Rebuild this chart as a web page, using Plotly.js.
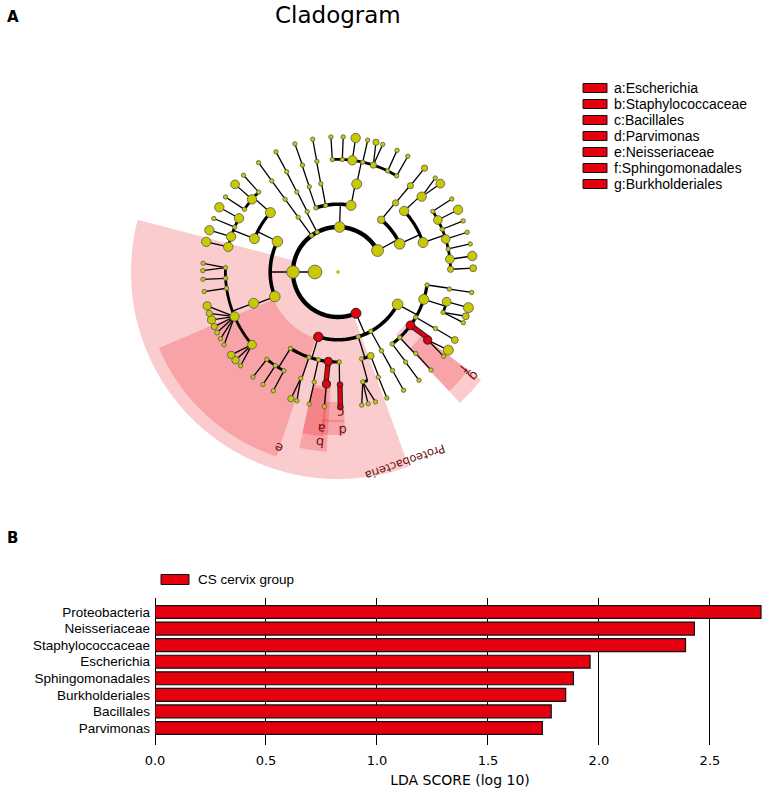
<!DOCTYPE html>
<html><head><meta charset="utf-8">
<script src="https://cdn.plot.ly/plotly-3.0.1.min.js"></script>
<style>html,body{margin:0;padding:0;background:#fff}#chart{width:765px;height:794px}</style>
</head><body><div id="chart"></div>
<script>
// ---------------- Panel B : LDA scores ----------------
const taxa = ['Proteobacteria','Neisseriaceae','Staphylococcaceae','Escherichia','Sphingomonadales','Burkholderiales','Bacillales','Parvimonas'];
const ldaScores = [2.73, 2.43, 2.39, 1.96, 1.885, 1.85, 1.785, 1.745];
const groupName = 'CS cervix group';
const ldaTicks = [0, 0.5, 1, 1.5, 2, 2.5];

// ---------------- Panel A : cladogram legend ----------------
const cladeLetters = ['a','b','c','d','e','f','g'];
const cladeNames = ['Escherichia','Staphylococcaceae','Bacillales','Parvimonas','Neisseriaceae','Sphingomonadales','Burkholderiales'];

// ---------------- Panel A : taxonomy tree ----------------
// level: 0 root, 1 kingdom, 2 phylum, 3 class, 4 order, 5 family, 6 genus
const nodeParent = [-1,-1,1,1,1,1,1,1,2,2,2,2,3,3,4,5,6,6,6,7,7,
  8,8,8,8,8,8,9,10,10,11,11,11,11,11,12,13,13,14,15,16,17,18,19,20,20,
  21,22,22,23,24,25,26,27,28,29,30,31,32,33,34,34,34,35,35,35,35,35,36,36,36,36,37,37,37,38,39,40,41,42,42,42,42,42,42,42,43,44,45,45,45,45,45,45,45,
  46,47,48,48,49,50,50,51,52,53,54,55,55,55,56,57,58,59,59,60,61,62,63,63,63,64,64,64,64,64,64,64,65,66,67,67,68,69,70,71,72,73,74,75,76,77,78,79,80,81,82,83,83,84,85,86,87,87,88,89,90,91,92,93,94];
const nodeLevel = [0,1,2,2,2,2,2,2,3,3,3,3,3,3,3,3,3,3,3,3,3,
  4,4,4,4,4,4,4,4,4,4,4,4,4,4,4,4,4,4,4,4,4,4,4,4,4,
  5,5,5,5,5,5,5,5,5,5,5,5,5,5,5,5,5,5,5,5,5,5,5,5,5,5,5,5,5,5,5,5,5,5,5,5,5,5,5,5,5,5,5,5,5,5,5,5,5,
  6,6,6,6,6,6,6,6,6,6,6,6,6,6,6,6,6,6,6,6,6,6,6,6,6,6,6,6,6,6,6,6,6,6,6,6,6,6,6,6,6,6,6,6,6,6,6,6,6,6,6,6,6,6,6,6,6,6,6,6,6,6,6,6,6];
const nodeAngle = [0,180,66.5,180,234,242.3,272,331.5,28.5,61,72.6,106.9,158.8,206.7,234,243,251,259.5,281.1,309.6,335.5,
  8.3,17.7,30.2,36.3,46.7,53,61.1,68.7,74.8,89.2,96.2,102.6,108.8,121.9,159.7,201.7,221.3,234,242.8,251.4,259,282,309.8,317.3,340.9,
  8.7,15.3,21,30.1,37.2,46.3,53.1,61,69,77.3,89,95.9,102.2,109.3,118.7,123.8,129.2,139.8,156.7,171.7,176.8,182.2,192.9,198.3,203.5,208.5,213.8,220.2,225.2,234,242.9,251.6,259.2,267.1,272.2,277.3,282.7,288.3,296.2,301.4,310,318,327.4,332.5,337.7,343,348.2,353.5,358.6,
  8.7,15.3,19.1,22,30.2,35.3,38.6,46.5,53.2,61,68.8,73.9,77.1,79.9,89,95.8,102.3,107.7,110.4,118.6,123.7,129,136.1,139.3,142.2,147.4,150.4,153.4,156.2,159.3,162.2,165.5,171.7,176.9,180.6,183.7,192.9,198,203.3,208.6,213.7,220.4,225.7,234,242.7,251.4,259.2,267,272.2,277.5,282.7,286.3,289.3,295.9,301.1,309.8,316,319.2,327.3,332.6,337.8,342.9,348,353.2,358.4];
const nodeAbundance = [3,11,8,10,3.5,3.5,8.5,9.5,8.5,3.5,3.5,7.5,8.5,8.5,3.5,3.5,3.5,3.5,8,6,8.5,
  3.5,8,3.5,7,3.5,3.5,3.5,5.5,3.5,3.5,6.5,3.5,3.5,3.5,8,8,8,3.5,3.5,3.5,3.5,8,5,7.5,8,
  3.5,7,3.5,3.5,6.5,3.5,3.5,3.5,3.5,3.5,4.5,6.5,3.5,3.5,3.5,3.5,3.5,7,7.5,3.5,3.5,3.5,7.5,7.5,3.5,7.5,3.5,7.5,3.5,3.5,3.5,3.5,3.5,3.5,3.5,7.5,3.5,5,3.5,3.5,5,7.5,3.5,7,3.5,7,3.5,7,5,
  3.5,8,5.5,3.5,5.5,8,3.5,3.5,3.5,3.5,3.5,3.5,3.5,3.5,4.5,3.5,3.5,3.5,5,3.5,3.5,3.5,3.5,6,6,3.5,3.5,4,5,6.5,5,6.5,3.5,3.5,3.5,3.5,7.5,7.5,3.5,7.5,3.5,7,3.5,3.5,3.5,3.5,3.5,3.5,3.5,7.5,3.5,5,3.5,3.5,3.5,5,3.5,7,3.5,7.5,3.5,3.5,3.5,7.5,5.5];
const nodeBiomarker = nodeParent.map(()=>0);
[2,11,24,31,50,56,57,109].forEach(i=>nodeBiomarker[i]=1);
const levelRadius = [0, 23, 45, 67.8, 90, 112.6, 135.2];

// ---------------- Panel A : highlighted clades ----------------
const wedgeLabel  = ['Proteobacteria','e','b','a','c','d','g','f'];
const wedgeStart  = [70, 108.4, 93.6, 95, 87.5, 87.5, 37, 37];
const wedgeEnd    = [194.6, 157, 102.4, 102.5, 96, 96, 47, 47];
const wedgeInner  = [47, 70, 115, 118, 130, 148, 85, 105];
const wedgeOuter  = [207, 194.5, 180, 165, 150, 163, 179, 163];
const labelAngle  = [70.6, 108.7, 96, 95.9, 88.9, 88.4, 37.5, 37.7];
const labelRadius = [202, 186, 172, 158, 141.3, 158, 170.7, 158.5];

// ---------------- geometry of the page ----------------
const W = 765, H = 794;
const cx = 338, cy = 272, Rpx = 220;       // cladogram centre and radius in px
const RED = '#e5000f', YEL = '#c9c900';
const sizeScale = 1.25;

const traces = [];
function arcPts(r, a0, a1){
  const n = Math.max(2, Math.ceil(Math.abs(a1-a0))+1);
  const rr=[], tt=[];
  for(let k=0;k<n;k++){ rr.push(r); tt.push(a0+(a1-a0)*k/(n-1)); }
  return [rr,tt];
}
// wedges
wedgeLabel.forEach((lab,i)=>{
  const [r1,t1] = arcPts(wedgeOuter[i], wedgeStart[i], wedgeEnd[i]);
  const [r2,t2] = arcPts(wedgeInner[i], wedgeEnd[i], wedgeStart[i]);
  traces.push({type:'scatterpolar', mode:'lines', r:r1.concat(r2,[r1[0]]), theta:t1.concat(t2,[t1[0]]),
    fill:'toself', fillcolor:'rgba(235,12,22,0.21)', line:{width:0}, hoverinfo:'skip', showlegend:false});
});

// edges
const children = nodeParent.map(()=>[]);
nodeParent.forEach((p,i)=>{ if(p>=0) children[p].push(i); });
const thin = {r:[],t:[]}, redUnder={r:[],t:[]}, redTop={r:[],t:[]};
const arcsByLevel = {};
function push(seg, rs, ts){ seg.r.push(...rs, null); seg.t.push(...ts, null); }
children.forEach((ch,p)=>{
  if(!ch.length) return;
  const rp = levelRadius[nodeLevel[p]];
  const isRedEdge = c => nodeBiomarker[p] && nodeBiomarker[c] && nodeLevel[c] >= 5;
  const internal = ch.filter(c=>children[c].length);
  const leaves = ch.filter(c=>!children[c].length);
  leaves.forEach(c=>{
    const rs=[rp, levelRadius[nodeLevel[c]]], ts=[nodeAngle[p], nodeAngle[c]];
    if(isRedEdge(c)){ push(redUnder,rs,ts); push(redTop,rs,ts); } else push(thin,rs,ts);
  });
  if(internal.length){
    const lev = nodeLevel[internal[0]];
    const rc = levelRadius[lev];
    const angs = internal.map(c=>nodeAngle[c]).concat([nodeAngle[p]]);
    const lo = Math.min(...angs), hi = Math.max(...angs);
    const red = internal.every(isRedEdge);
    const [ar,at] = arcPts(rc, lo, hi);
    if(red){
      push(redUnder,[rp,rc],[nodeAngle[p],nodeAngle[p]]); push(redTop,[rp,rc],[nodeAngle[p],nodeAngle[p]]);
      push(redUnder,ar,at); push(redTop,ar,at);
    } else {
      push(thin,[rp,rc],[nodeAngle[p],nodeAngle[p]]);
      if(!arcsByLevel[lev]) arcsByLevel[lev]={r:[],t:[]};
      push(arcsByLevel[lev], ar, at);
    }
  }
});
const arcWidth = {2:4.4, 3:3.6, 4:3.2, 5:2.8, 6:2.2};
traces.push({type:'scatterpolar', mode:'lines', r:thin.r, theta:thin.t, line:{color:'#000', width:1.3}, hoverinfo:'skip', showlegend:false});
Object.keys(arcsByLevel).forEach(l=>{
  traces.push({type:'scatterpolar', mode:'lines', r:arcsByLevel[l].r, theta:arcsByLevel[l].t, line:{color:'#000', width:arcWidth[l]}, hoverinfo:'skip', showlegend:false});
});
traces.push({type:'scatterpolar', mode:'lines', r:redUnder.r, theta:redUnder.t, line:{color:'#222', width:5.4}, hoverinfo:'skip', showlegend:false});
traces.push({type:'scatterpolar', mode:'lines', r:redTop.r, theta:redTop.t, line:{color:RED, width:3.4}, hoverinfo:'skip', showlegend:false});

// nodes
['y','r'].forEach(kind=>{
  const idx = nodeParent.map((_,i)=>i).filter(i=> kind==='r' ? nodeBiomarker[i] : !nodeBiomarker[i]);
  traces.push({type:'scatterpolar', mode:'markers',
    r: idx.map(i=>levelRadius[nodeLevel[i]]), theta: idx.map(i=>nodeAngle[i]),
    marker:{size: idx.map(i=> i===0 ? 3 : nodeAbundance[i]*sizeScale), color: kind==='r'?RED:YEL, opacity:1,
      line:{color: idx.map(i=> i===0 ? YEL : (kind==='r'?'#222':'#555')), width: kind==='r'?1:0.8}},
    hoverinfo:'skip', showlegend:false});
});

// bars
traces.push({type:'bar', orientation:'h', x:ldaScores, y:taxa, xaxis:'x', yaxis:'y', width:0.78,
  marker:{color:RED, line:{color:'#111', width:1.2}}, hoverinfo:'skip', showlegend:false});

// annotations & shapes
const annotations = [], shapes = [];
const px = x => x/W, py = y => 1 - y/H;
annotations.push({text:'<b>A</b>', x:px(13), y:py(17), xref:'paper', yref:'paper', showarrow:false, xanchor:'center', yanchor:'middle', font:{family:'DejaVu Sans', size:15, color:'#000'}});
annotations.push({text:'<b>B</b>', x:px(13), y:py(538), xref:'paper', yref:'paper', showarrow:false, xanchor:'center', yanchor:'middle', font:{family:'DejaVu Sans', size:15, color:'#000'}});
annotations.push({text:'Cladogram', x:px(337.5), y:py(15), xref:'paper', yref:'paper', showarrow:false, xanchor:'center', yanchor:'middle', font:{family:'DejaVu Sans', size:23, color:'#000'}});
// wedge labels
wedgeLabel.forEach((lab,i)=>{
  const a = labelAngle[i]*Math.PI/180;
  annotations.push({text:lab, x:px(cx + labelRadius[i]*Math.cos(a)), y:py(cy + labelRadius[i]*Math.sin(a)),
    xref:'paper', yref:'paper', showarrow:false, xanchor:'center', yanchor:'middle', textangle: labelAngle[i]+90,
    font:{family:'DejaVu Sans', size: lab.length>1 ? 11.5 : 13, color:'#6e1010'}});
});
// cladogram legend
const legTop = 88, legStep = 16;
cladeLetters.forEach((l,i)=>{
  const yc = legTop + i*legStep;
  shapes.push({type:'rect', xref:'paper', yref:'paper', x0:px(583), x1:px(607), y0:py(yc+4.5), y1:py(yc-4.5), fillcolor:RED, line:{color:'#111', width:1}});
  annotations.push({text:l+':'+cladeNames[i], x:px(612), y:py(yc), xref:'paper', yref:'paper', showarrow:false, xanchor:'left', yanchor:'middle', font:{family:'Liberation Sans', size:14, color:'#000'}});
});
// bar legend
shapes.push({type:'rect', xref:'paper', yref:'paper', x0:px(161), x1:px(189), y0:py(584.5), y1:py(574.5), fillcolor:RED, line:{color:'#111', width:1}});
annotations.push({text:groupName, x:px(196), y:py(579.5), xref:'paper', yref:'paper', showarrow:false, xanchor:'left', yanchor:'middle', font:{family:'Liberation Sans', size:13.5, color:'#000'}});

const layout = {
  width:W, height:H, margin:{l:0,r:0,t:0,b:0}, paper_bgcolor:'#fff', plot_bgcolor:'rgba(0,0,0,0)',
  showlegend:false,
  polar:{
    domain:{x:[px(cx-Rpx), px(cx+Rpx)], y:[py(cy+Rpx), py(cy-Rpx)]},
    bgcolor:'rgba(0,0,0,0)', hole:0,
    radialaxis:{range:[0,Rpx], visible:false, showgrid:false, showline:false, showticklabels:false, ticks:''},
    angularaxis:{visible:false, rotation:0, direction:'clockwise', showgrid:false, showline:false, showticklabels:false, ticks:''}
  },
  xaxis:{domain:[px(155), 1], range:[0, 2.748], tickvals:ldaTicks, ticktext:ldaTicks.map(v=>v.toFixed(1)),
    showgrid:true, gridcolor:'#000', gridwidth:1, zeroline:true, zerolinecolor:'#000', zerolinewidth:1,
    showline:false, ticks:'', ticklabelstandoff:6, tickfont:{family:'DejaVu Sans', size:13, color:'#000'},
    title:{text:'LDA SCORE (log 10)', font:{family:'DejaVu Sans', size:14, color:'#000'}, standoff:8}, fixedrange:true},
  yaxis:{domain:[py(745), py(598)], type:'category', categoryarray:taxa, categoryorder:'array',
    range:[8.026, -0.845], showgrid:false, zeroline:false, showline:false, ticks:'', ticklabelstandoff:4,
    tickfont:{family:'Liberation Sans', size:13.5, color:'#000'}, fixedrange:true},
  annotations, shapes
};
Plotly.newPlot('chart', traces, layout, {staticPlot:true, displayModeBar:false});
</script></body></html>
